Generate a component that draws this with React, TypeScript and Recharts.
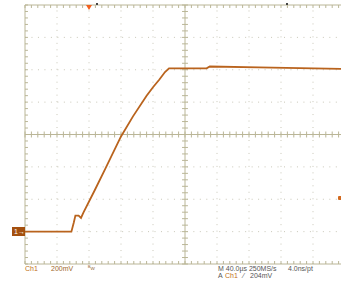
import { LineChart, Line, XAxis, YAxis, ReferenceLine } from 'recharts';

// time in µs (40 µs/div, 10 divs), voltage in V (200 mV/div, ground at 0)
const timeUs = [0, 58, 61, 63, 67, 70, 73, 87, 100, 120, 135, 152, 160, 168, 175, 180, 227, 231, 292, 400];
const volts = [0, 0, 0.056, 0.099, 0.099, 0.085, 0.118, 0.254, 0.384, 0.588, 0.712, 0.84, 0.892, 0.94, 0.986, 1.009, 1.009, 1.02, 1.015, 1.005];

const xDivs = [0, 40, 80, 120, 160, 200, 240, 280, 320, 360, 400];
const yDivs = [-0.2, 0, 0.2, 0.4, 0.6, 0.8, 1.0, 1.2, 1.4];
const xCenter = 200;
const yCenter = 0.6;

const data = timeUs.map((t, i) => ({ t, v: volts[i] }));

const GRID = '#bab697';
const DOT = '#c9c7b8';
const TRACE = '#b9631d';

// minor graticule ticks: 5 per division
const xMinor = Array.from({ length: 51 }, (_, i) => i * 8);
const yMinor = Array.from({ length: 41 }, (_, i) => -0.2 + i * 0.04);
const tx = 3.7; // ~3px in µs
const ty = 0.0185; // ~3px in V

const seg = (a: [number, number], b: [number, number], key: string) => (
  <ReferenceLine
    key={key}
    segment={[{ x: a[0], y: a[1] }, { x: b[0], y: b[1] }]}
    stroke={GRID}
    strokeWidth={1}
    ifOverflow="visible"
  />
);

const txt: React.CSSProperties = {
  position: 'absolute',
  fontFamily: '"Liberation Sans", Arial, sans-serif',
  fontSize: 7,
  lineHeight: '8px',
  color: '#555',
  whiteSpace: 'nowrap',
};

export default function App() {
  return (
    <div style={{ position: 'absolute', left: 0, top: 0, width: 341, height: 282, overflow: 'hidden', background: '#fff' }}>
      <LineChart width={350} height={282} data={data} margin={{ top: 5, right: 5, left: 25, bottom: 18 }}>
        <XAxis dataKey="t" type="number" domain={[0, 400]} hide allowDataOverflow />
        <YAxis type="number" domain={[-0.2, 1.4]} hide allowDataOverflow />
        {xDivs.filter((x) => x !== 0 && x !== 400 && x !== xCenter).map((x) => (
          <ReferenceLine key={'gx' + x} x={x} stroke={DOT} strokeDasharray="1 5.475" strokeWidth={1} />
        ))}
        {yDivs.filter((y) => y !== -0.2 && y !== 1.4 && Math.abs(y - yCenter) > 1e-6).map((y) => (
          <ReferenceLine key={'gy' + y} y={y} stroke={DOT} strokeDasharray="1 5.475" strokeWidth={1} />
        ))}
        <ReferenceLine x={0} stroke={GRID} />
        <ReferenceLine x={400} stroke={GRID} />
        <ReferenceLine y={-0.2} stroke={GRID} />
        <ReferenceLine y={1.4} stroke={GRID} />
        <ReferenceLine x={xCenter} stroke={GRID} />
        <ReferenceLine y={yCenter} stroke={GRID} />
        {xMinor.map((x) => seg([x, -0.2], [x, -0.2 + ty], 'bt' + x))}
        {xMinor.map((x) => seg([x, 1.4], [x, 1.4 - ty], 'tt' + x))}
        {xMinor.map((x) => seg([x, yCenter - ty], [x, yCenter + ty], 'ct' + x))}
        {yMinor.map((y) => seg([0, y], [tx, y], 'lt' + y.toFixed(2)))}
        {yMinor.map((y) => seg([xCenter - tx, y], [xCenter + tx, y], 'cy' + y.toFixed(2)))}
        <Line
          dataKey="v"
          type="linear"
          stroke={TRACE}
          strokeWidth={1.8}
          dot={false}
          isAnimationActive={false}
        />
      </LineChart>
      {/* ground marker */}
      <div style={{ position: 'absolute', left: 12, top: 227, width: 13, height: 9, background: '#a4500f', color: '#fff', fontFamily: '"Liberation Sans", Arial, sans-serif', fontSize: 7, lineHeight: '9px', paddingLeft: 2, boxSizing: 'border-box' }}>1→</div>
      {/* trigger position marker */}
      <div style={{ position: 'absolute', left: 86, top: 5, width: 0, height: 0, borderLeft: '3.5px solid transparent', borderRight: '3.5px solid transparent', borderTop: '5px solid #f2601e' }} />
      <div style={{ position: 'absolute', left: 96, top: 3, width: 2, height: 2, background: '#444' }} />
      <div style={{ position: 'absolute', left: 286, top: 3, width: 2, height: 2, background: '#444' }} />
      {/* trigger level marker */}
      <div style={{ position: 'absolute', left: 338, top: 196, width: 4, height: 4, background: '#d2691e', borderRadius: 1 }} />
      <div style={{ ...txt, left: 25, top: 265, color: '#c07020' }}>Ch1</div>
      <div style={{ ...txt, left: 51, top: 265, color: '#a0682a' }}>200mV</div>
      <div style={{ ...txt, left: 88, top: 264, color: '#a07850', fontSize: 6 }}>ᴮw</div>
      <div style={{ ...txt, left: 218, top: 265 }}>M 40.0µs 250MS/s</div>
      <div style={{ ...txt, left: 288, top: 265 }}>4.0ns/pt</div>
      <div style={{ ...txt, left: 218, top: 272 }}>A</div>
      <div style={{ ...txt, left: 225, top: 272, color: '#c07020' }}>Ch1</div>
      <div style={{ ...txt, left: 243, top: 272 }}>⁄</div>
      <div style={{ ...txt, left: 250, top: 272 }}>204mV</div>
    </div>
  );
}
